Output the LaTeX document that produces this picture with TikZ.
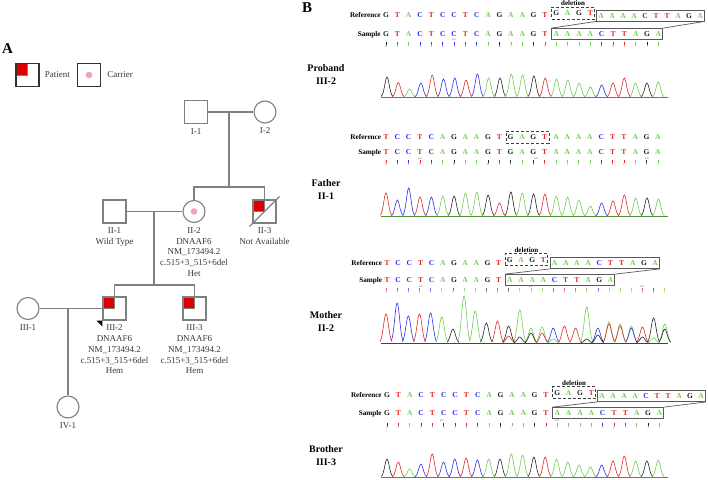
\documentclass[tikz,border=0pt]{standalone}
\usepackage{fontspec}
\setmainfont{Liberation Serif}
\usetikzlibrary{positioning,fit}

\definecolor{pedgray}{RGB}{128,128,128}
\definecolor{pedtext}{RGB}{55,55,55}
\definecolor{patred}{RGB}{222,0,0}
\definecolor{carpink}{RGB}{240,165,175}
\definecolor{baseA}{RGB}{110,205,80}
\definecolor{baseC}{RGB}{45,45,235}
\definecolor{baseG}{RGB}{35,35,35}
\definecolor{baseT}{RGB}{225,40,40}

\begin{document}
\begin{tikzpicture}[
  x=1pt, y=-1pt,
  male/.style={draw=pedgray, line width=1.1pt, minimum size=23pt, inner sep=0pt},
  female/.style={male, circle, minimum size=22pt},
  legbox/.style={draw=black!80, line width=1.3pt, minimum size=23pt, inner sep=0pt},
  patient/.style={path picture={\filldraw[fill=patred, draw=pedgray, line width=0.8pt] (path picture bounding box.north west) rectangle (path picture bounding box.center);}},
  carrier/.style={path picture={\fill[carpink] (path picture bounding box.center) circle (3.3pt);}},
  pedline/.style={draw=pedgray, line width=1.1pt},
  info/.style={align=center, inner sep=0pt, text=pedtext, font=\fontsize{9}{10.8}\selectfont},
  panel/.style={inner sep=0pt, font=\fontsize{15}{15}\selectfont\bfseries},
  nuc/.style={inner sep=0pt, text height=5.2pt, text depth=0pt, font=\fontsize{7.5}{8}\selectfont\bfseries},
  rowlab/.style={nuc, font=\fontsize{7.2}{8}\selectfont\bfseries},
  dellab/.style={inner sep=0pt, font=\fontsize{7}{8}\selectfont\bfseries},
  delbox/.style={draw=black!75, densely dashed, line width=0.6pt, inner xsep=1.5pt, inner ysep=3.2pt},
  seqbox/.style={draw=black!65, line width=0.8pt, inner xsep=1.5pt, inner ysep=2.7pt},
  boxline/.style={draw=black!65, line width=0.7pt},
  who/.style={align=center, inner sep=0pt, font=\fontsize{10}{13}\selectfont\bfseries},
  trace/.style={line width=0.6pt},
  ticknum/.style={inner sep=0pt, text=black!60, font=\fontsize{2.6}{3}\selectfont}
]
  \useasboundingbox (0,0) rectangle (708,479);

  % panel A: pedigree
  \node[panel] (pA) at (7.5,48.5) {A};
  \node[legbox, patient] (legP) at (27.5,75) {};
  \node[info, right=5pt of legP] {Patient};
  \node[legbox, carrier] (legC) at (89,75) {};
  \node[info, right=6pt of legC] {Carrier};

  \node[male] (I1) at (196,112) {};
  \node[female] (I2) at (265,112) {};
  \node[male] (II1) at (114.5,211.5) {};
  \node[female, carrier] (II2) at (194,211.5) {};
  \node[male, patient] (II3) at (264.5,211.5) {};
  \node[female] (III1) at (28,308.5) {};
  \node[male, patient] (III2) at (114.5,308.5) {};
  \node[male, patient] (III3) at (194.5,308.5) {};
  \node[female] (IV1) at (68,407) {};

  \coordinate (m1) at (229,112);
  \coordinate (s1) at (229,187);
  \coordinate (m2) at (154,211.5);
  \coordinate (s2) at (154,285);
  \coordinate (m3) at (68,308.5);

  \draw[pedline] (I1) -- (I2);
  \draw[pedline] (m1) -- (s1);
  \draw[pedline] (II2) |- (s1) -| (II3);
  \draw[pedline] (II1) -- (II2);
  \draw[pedline] (m2) -- (s2);
  \draw[pedline] (III2) |- (s2) -| (III3);
  \draw[pedline] (III1) -- (III2);
  \draw[pedline] (m3) -- (IV1);
  \draw[pedline] ([shift={(-3pt,-3pt)}]II3.south west) -- ([shift={(3pt,3pt)}]II3.north east);
  \fill[black] ([xshift=-6pt]III2.south west) -- (III2.south west) -- ([yshift=-6pt]III2.south west) -- cycle;

  \node[info, below=4pt of I1] {I-1};
  \node[info, below=4pt of I2] {I-2};
  \node[info, below=4pt of II1] {II-1\\Wild Type};
  \node[info, below=4pt of II2] {II-2\\DNAAF6\\NM\_173494.2\\c.515+3\_515+6del\\Het};
  \node[info, below=4pt of II3] {II-3\\Not Available};
  \node[info, below=4pt of III1] {III-1};
  \node[info, below=4pt of III2] {III-2\\DNAAF6\\NM\_173494.2\\c.515+3\_515+6del\\Hem};
  \node[info, below=4pt of III3] {III-3\\DNAAF6\\NM\_173494.2\\c.515+3\_515+6del\\Hem};
  \node[info, below=4pt of IV1] {IV-1};

  % panel B: proband
  \node[panel] (pB) at (307,8) {B};
  \foreach \b [count=\i] in {G,T,A,C,T,C,C,T,C,A,G,A,A,G,T}
    \node[nuc, text=base\b] (r1-\i) at ({386+(\i-1)*11.35},15) {\b};
  \foreach \b [count=\i from 16] in {G,A,G,T}
    \node[nuc, text=base\b] (r1-\i) at ({386+(\i-1)*11.35},13) {\b};
  \foreach \b [count=\i from 20] in {A,A,A,A,C,T,T,A,G,A}
    \node[nuc, text=base\b] (r1-\i) at ({601+(\i-20)*11},15.5) {\b};
  \draw[color=baseA!70!black, line width=0.5pt] (381,97) -- (668,97);
  \foreach \b/\h [count=\i] in {G/20,T/14.5,A/8,C/14,T/22,C/18,C/19,T/17,C/23,A/19,G/19,A/23,A/22,G/21,T/19,A/18,A/17,A/14,A/10,C/12,T/14,T/19,A/14,G/14,A/15} {
    \node[nuc, text=base\b] (s1-\i) at ({386+(\i-1)*11.35},34) {\b};
    \draw[color=base\b, line width=0.7pt] ({386+(\i-1)*11.35},42) -- ({386+(\i-1)*11.35},44.5);
    \fill[fill=base\b] ({386+(\i-1)*11.35},46) circle (0.55pt);
    \draw[trace, color=base\b] plot[smooth, domain=-6:6, samples=13] ({387+(\i-1)*11.3+(\x)},{97-\h*exp(-(\x)*(\x)/10)});
  }
  \node[delbox, fit=(r1-16)(r1-19)] (d1) {};
  \node[dellab, above=1pt of d1] {deletion};
  \node[seqbox, fit=(r1-20)(r1-29)] (rb1) {};
  \node[seqbox, fit=(s1-16)(s1-25)] (sb1) {};
  \draw[boxline] (rb1.south west) -- (sb1.north west) (rb1.south east) -- (sb1.north east);
  \node[rowlab, left=2pt of r1-1] {Reference};
  \node[rowlab, left=2pt of s1-1] {Sample};
  \node[ticknum] at (454,40) {410};
  \node[ticknum] at (569,40) {420};
  \node[who] (wp) at (326,74.5) {Proband\\III-2};

  % father
  \foreach \b [count=\i] in {T,C,C,T,C,A,G,A,A,G,T,G,A,G,T,A,A,A,A,C,T,T,A,G,A}
    \node[nuc, text=base\b] (r2-\i) at ({386+(\i-1)*11.33},137) {\b};
  \draw[color=baseA!70!black, line width=0.5pt] (381,216) -- (668,216);
  \foreach \b/\h [count=\i] in {T/23,C/16,C/28,T/19,C/19,A/20,G/20,A/23,A/24,G/21,T/13,G/24,A/23,G/22,T/22,A/20,A/19,A/16,A/10,C/13,T/15,T/21,A/18,G/18,A/17} {
    \node[nuc, text=base\b] (s2-\i) at ({386+(\i-1)*11.33},152) {\b};
    \draw[color=base\b, line width=0.7pt] ({386+(\i-1)*11.33},160) -- ({386+(\i-1)*11.33},162.5);
    \fill[fill=base\b] ({386+(\i-1)*11.33},164) circle (0.55pt);
    \draw[trace, color=base\b] plot[smooth, domain=-6:6, samples=13] ({386+(\i-1)*11.35+(\x)},{216-\h*exp(-(\x)*(\x)/10)});
  }
  \node[delbox, fit=(r2-12)(r2-15)] (d2) {};
  \node[rowlab, left=2pt of r2-1] {Reference};
  \node[rowlab, left=2pt of s2-1] {Sample};
  \node[ticknum] at (420,159) {410};
  \node[ticknum] at (536,159) {420};
  \node[ticknum] at (647,159) {430};
  \node[who] (wf) at (326,189.5) {Father\\II-1};

  % mother
  \foreach \b [count=\i] in {T,C,C,T,C,A,G,A,A,G,T}
    \node[nuc, text=base\b] (r3-\i) at ({387+(\i-1)*11.17},263) {\b};
  \foreach \b [count=\i from 12] in {G,A,G,T}
    \node[nuc, text=base\b] (r3-\i) at ({387+(\i-1)*11.17},259.5) {\b};
  \foreach \b [count=\i from 16] in {A,A,A,A,C,T,T,A,G,A}
    \node[nuc, text=base\b] (r3-\i) at ({387+(\i-1)*11.17},263) {\b};
  \foreach \b [count=\i] in {T,C,C,T,C,A,G,A,A,G,T,A,A,A,A,C,T,T,A,G,A}
    \node[nuc, text=base\b] (s3-\i) at ({387+(\i-1)*11.17},280) {\b};
  \foreach \b [count=\i] in {T,C,C,T,C,A,G,A,A,G,T,G,A,A,A,C,T,T,A,C,A,A,A,T,G,A} {
    \draw[color=base\b!70, line width=0.7pt] ({386+(\i-1)*11.15},288) -- ({386+(\i-1)*11.15},290.5);
    \fill[fill=base\b!70] ({386+(\i-1)*11.15},292) circle (0.55pt);
  }
  \draw[color=baseC, line width=0.6pt] (381,343) -- (668,343);
  \foreach \k/\b/\h in {1/T/29,2/C/40,3/C/27,4/T/29,5/C/30,6/A/26,7/G/14,8/A/47,9/A/32,10/G/20,11/T/22,12/G/17,12/T/7,13/A/33,13/G/6,14/A/15,14/G/10,15/A/16,15/T/10,16/C/15,16/A/4,17/T/17,18/T/15,19/A/36,19/G/4,20/C/15,20/G/8,21/A/21,21/T/19,22/A/19,22/T/17,23/A/17,23/C/15,24/T/16,24/G/6,25/G/25,25/A/5,26/A/19,26/G/14}
    \draw[trace, color=base\b] plot[smooth, domain=-6:6, samples=13] ({386+(\k-1)*11.15+(\x)},{343-\h*exp(-(\x)*(\x)/12)});
  \node[delbox, inner ysep=3pt, fit=(r3-12)(r3-15)] (d3) {};
  \node[dellab, above=1pt of d3] {deletion};
  \node[seqbox, fit=(r3-16)(r3-25)] (rb3) {};
  \node[seqbox, fit=(s3-12)(s3-21)] (sb3) {};
  \draw[boxline] (rb3.south west) -- (sb3.north west) (rb3.south east) -- (sb3.north east);
  \node[rowlab, left=2pt of r3-1] {Reference};
  \node[rowlab, left=2pt of s3-1] {Sample};
  \node[ticknum] at (421,287) {410};
  \node[ticknum] at (531,287) {420};
  \node[ticknum] at (642,287) {430};
  \node[who] (wm) at (326,321.5) {Mother\\II-2};

  % brother
  \foreach \b [count=\i] in {G,T,A,C,T,C,C,T,C,A,G,A,A,G,T}
    \node[nuc, text=base\b] (r4-\i) at ({387+(\i-1)*11.35},395) {\b};
  \foreach \b [count=\i from 16] in {G,A,G,T}
    \node[nuc, text=base\b] (r4-\i) at ({387+(\i-1)*11.35},392.7) {\b};
  \foreach \b [count=\i from 20] in {A,A,A,A,C,T,T,A,G,A}
    \node[nuc, text=base\b] (r4-\i) at ({602+(\i-20)*11},396) {\b};
  \draw[color=baseA!70!black, line width=0.5pt] (381,477) -- (668,477);
  \foreach \b/\h [count=\i] in {G/18,T/15,A/8,C/13,T/23,C/15,C/18,T/19,C/17,A/18,G/18,A/23,A/22,G/20,T/20,A/18,A/15,A/12,A/10,C/12,T/16,T/21,A/16,G/16,A/17} {
    \node[nuc, text=base\b] (s4-\i) at ({387+(\i-1)*11.35},413) {\b};
    \draw[color=base\b, line width=0.7pt] ({387+(\i-1)*11.35},423) -- ({387+(\i-1)*11.35},425.5);
    \fill[fill=base\b] ({387+(\i-1)*11.35},427) circle (0.55pt);
    \draw[trace, color=base\b] plot[smooth, domain=-6:6, samples=13] ({387+(\i-1)*11.3+(\x)},{477-\h*exp(-(\x)*(\x)/10)});
  }
  \node[delbox, fit=(r4-16)(r4-19)] (d4) {};
  \node[dellab, above=1pt of d4] {deletion};
  \node[seqbox, fit=(r4-20)(r4-29)] (rb4) {};
  \node[seqbox, fit=(s4-16)(s4-25)] (sb4) {};
  \draw[boxline] (rb4.south west) -- (sb4.north west) (rb4.south east) -- (sb4.north east);
  \node[rowlab, left=2pt of r4-1] {Reference};
  \node[rowlab, left=2pt of s4-1] {Sample};
  \node[ticknum] at (442,421) {410};
  \node[ticknum] at (557,421) {420};
  \node[who] (wb) at (326,456) {Brother\\III-3};
\end{tikzpicture}
\end{document}
